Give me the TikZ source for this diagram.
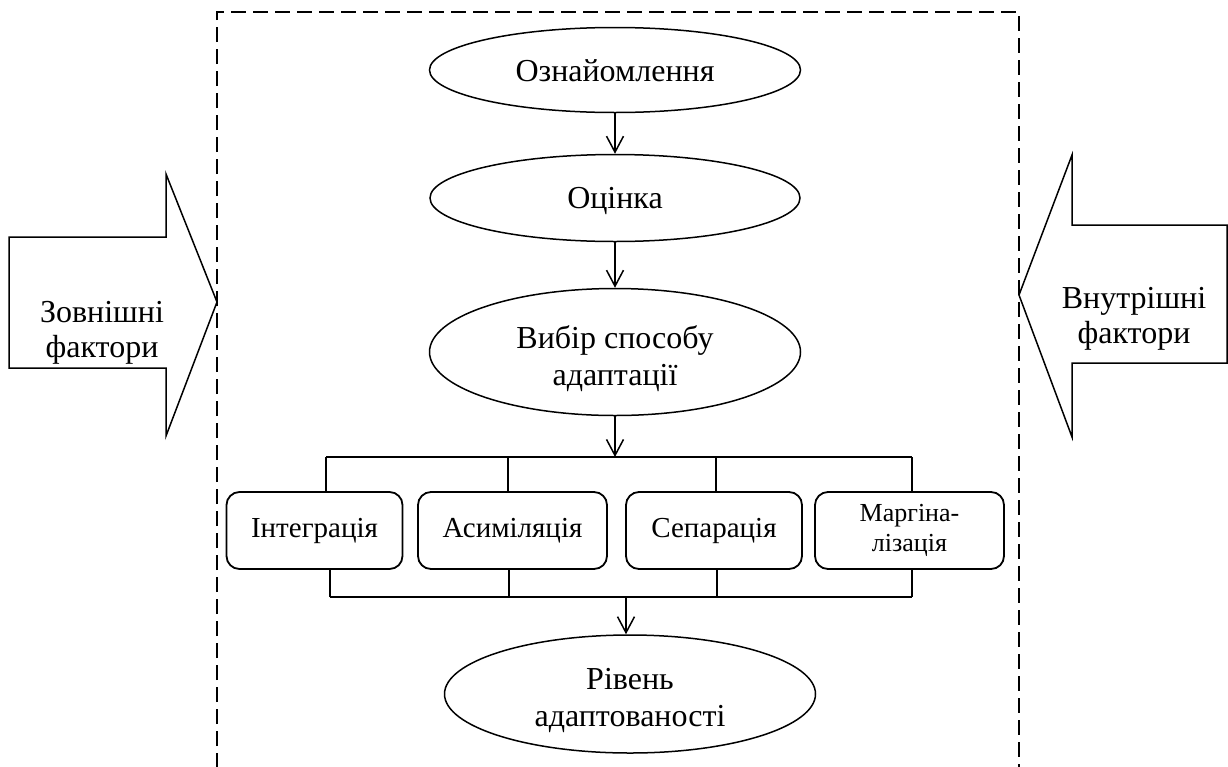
\documentclass[tikz,border=0pt]{standalone}
\usepackage{fontspec}
\setmainfont{Liberation Serif}
\usetikzlibrary{shapes.geometric,arrows.meta}

\begin{document}
\begin{tikzpicture}[x=1pt,y=-1pt,
  stage/.style={draw,ellipse,line width=1.5pt,inner sep=0pt},
  stagetext/.style={inner sep=0pt,align=center,font=\fontsize{32}{37}\selectfont},
  kind/.style={draw,rounded corners=13pt,line width=1.8pt,inner sep=0pt,
    minimum width=176pt,minimum height=77pt,align=center,
    font=\fontsize{29}{34}\selectfont},
  link/.style={line width=1.5pt},
  flow/.style={link,-{Straight Barb[length=16pt,width=17pt,line width=1.5pt]}},
  bigarrow/.style={draw,line width=1.5pt,line join=miter},
  factor/.style={align=center,font=\fontsize{32}{35}\selectfont}]

\useasboundingbox (0,0) rectangle (1228,766);
\clip (0,0) rectangle (1228,766);

% frame around the adaptation process (open at the bottom)
\draw[line width=1.5pt,dash pattern=on 15pt off 7pt]
  (217,790) -- (217,12) -- (1019,12) -- (1019,790);

% external and internal factors
\draw[bigarrow] (9,237) -- (166,237) -- (166,174) -- (217,302)
  -- (166,436) -- (166,368) -- (9,368) -- cycle;
\node[factor] (ext) at (102,333) {Зовнішні\\фактори};

\draw[bigarrow] (1227,225) -- (1072,225) -- (1072,155) -- (1019,295)
  -- (1072,437) -- (1072,363) -- (1227,363) -- cycle;
\node[factor] (int) at (1134,319) {Внутрішні\\фактори};

% stages
\node[stage,minimum width=371pt,minimum height=85pt] (e1) at (615,70) {};
\node[stagetext] (e1t) at (615,71) {Ознайомлення};
\node[stage,minimum width=370pt,minimum height=87pt] (e2) at (615,198) {};
\node[stagetext] (e2t) at (615,201) {Оцінка};
\node[stage,minimum width=371pt,minimum height=127pt] (e3) at (615,352) {};
\node[stagetext] (e3t) at (615,359) {Вибір способу\\адаптації};
\node[stage,minimum width=371pt,minimum height=118pt] (e4) at (630,694) {};
\node[stagetext] (e4t) at (630,700) {Рівень\\адаптованості};

% adaptation strategies
\node[kind] (k1) at (314.5,530.5) {Інтеграція};
\node[kind,minimum width=189pt] (k2) at (512.5,530.5) {Асиміляція};
\node[kind] (k3) at (714,530.5) {Сепарація};
\node[kind,minimum width=189pt,font=\fontsize{26}{30}\selectfont] (k4) at (909.5,530.5) {Маргіна-\\лізація};

% branching bars
\coordinate (top) at (615,457);
\coordinate (t1) at (326,457);
\coordinate (t2) at (508,457);
\coordinate (t3) at (716,457);
\coordinate (t4) at (912,457);
\coordinate (b1) at (330,597);
\coordinate (b2) at (509,597);
\coordinate (b3) at (717,597);
\coordinate (b4) at (912,597);
\coordinate (bot) at (626,597);

\draw[flow] (e1) -- (e2);
\draw[flow] (e2) -- (e3);
\draw[flow] (e3) -- (top);

\draw[link] (t1) -- (t4);
\draw[link] (t1) -- (t1 |- k1.north);
\draw[link] (t2) -- (t2 |- k2.north);
\draw[link] (t3) -- (t3 |- k3.north);
\draw[link] (t4) -- (t4 |- k4.north);

\draw[link] (b1) -- (b4);
\draw[link] (b1) -- (b1 |- k1.south);
\draw[link] (b2) -- (b2 |- k2.south);
\draw[link] (b3) -- (b3 |- k3.south);
\draw[link] (b4) -- (b4 |- k4.south);

\draw[flow] (bot) -- (bot |- e4.north);
\end{tikzpicture}
\end{document}
